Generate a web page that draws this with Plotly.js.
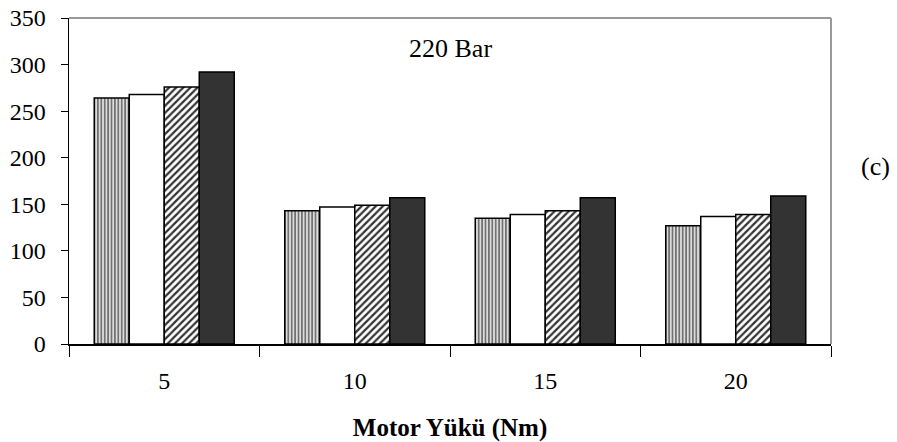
<!DOCTYPE html>
<html>
<head>
<meta charset="utf-8">
<script src="https://cdn.plot.ly/plotly-3.0.1.min.js"></script>
<style>
  html, body { margin: 0; padding: 0; background: #fff; }
  #chart { width: 897px; height: 442px; }
</style>
</head>
<body>
<div id="chart"></div>
<script>
// Motor load categories (Nm)
const loads = ["5", "10", "15", "20"];

// Four measured series at 220 bar injection pressure
const series1 = [264, 143, 135, 127];
const series2 = [268, 147, 139, 137];
const series3 = [276, 149, 143, 139];
const series4 = [292, 157, 157, 159];

const yTicks = [0, 50, 100, 150, 200, 250, 300, 350];

const serif = "Liberation Serif, Times New Roman, serif";
const outline = { color: "#000", width: 1.5 };

const traces = [
  {
    type: "bar", name: "Seri 1", x: loads, y: series1,
    marker: { color: "#cfcfcf", line: outline,
      pattern: { shape: "|", size: 3.4, solidity: 0.45, fgcolor: "#666", bgcolor: "#dcdcdc" } }
  },
  {
    type: "bar", name: "Seri 2", x: loads, y: series2,
    marker: { color: "#ffffff", line: outline }
  },
  {
    type: "bar", name: "Seri 3", x: loads, y: series3,
    marker: { color: "#ffffff", line: outline,
      pattern: { shape: "/", size: 5, solidity: 0.45, fgcolor: "#333", bgcolor: "#ffffff" } }
  },
  {
    type: "bar", name: "Seri 4", x: loads, y: series4,
    marker: { color: "#333333", line: outline }
  }
];

const layout = {
  width: 897, height: 442,
  margin: { l: 69, r: 65.5, t: 18, b: 98 },
  paper_bgcolor: "#fff", plot_bgcolor: "#fff",
  showlegend: false,
  barmode: "group",
  bargap: 0.265,
  bargroupgap: 0,
  font: { family: serif, size: 24, color: "#000" },
  xaxis: {
    type: "category",
    showgrid: false, zeroline: false,
    showline: true, linecolor: "#000", linewidth: 1.5,
    ticks: "outside", tickson: "boundaries", ticklen: 11, tickcolor: "#000", tickwidth: 1,
    ticklabelstandoff: 15,
    tickfont: { family: serif, size: 24, color: "#000" },
    title: { text: "<b>Motor Yükü (Nm)</b>", font: { family: serif, size: 25, color: "#000" }, standoff: 26 }
  },
  yaxis: {
    range: [0, 350],
    tickvals: yTicks,
    showgrid: false, zeroline: false,
    showline: true, linecolor: "#000", linewidth: 1.5,
    ticks: "outside", ticklen: 7, tickcolor: "#000", tickwidth: 1,
    ticklabelstandoff: 10,
    tickfont: { family: serif, size: 24, color: "#000" }
  },
  shapes: [
    { type: "line", xref: "paper", yref: "paper", x0: 0, x1: 1, y0: 1, y1: 1,
      line: { color: "#999", width: 2 } },
    { type: "line", xref: "paper", yref: "paper", x0: 1, x1: 1, y0: 0, y1: 1,
      line: { color: "#999", width: 2 } }
  ],
  annotations: [
    { text: "220 Bar", xref: "paper", yref: "paper", x: 0.5, y: 0.905,
      showarrow: false, xanchor: "center", yanchor: "middle",
      font: { family: serif, size: 26, color: "#000" } },
    { text: "(c)", xref: "paper", yref: "paper", x: 1.058, y: 0.545,
      showarrow: false, xanchor: "center", yanchor: "middle",
      font: { family: serif, size: 26, color: "#000" } }
  ]
};

Plotly.newPlot("chart", traces, layout, { staticPlot: true, displayModeBar: false });
</script>
</body>
</html>
